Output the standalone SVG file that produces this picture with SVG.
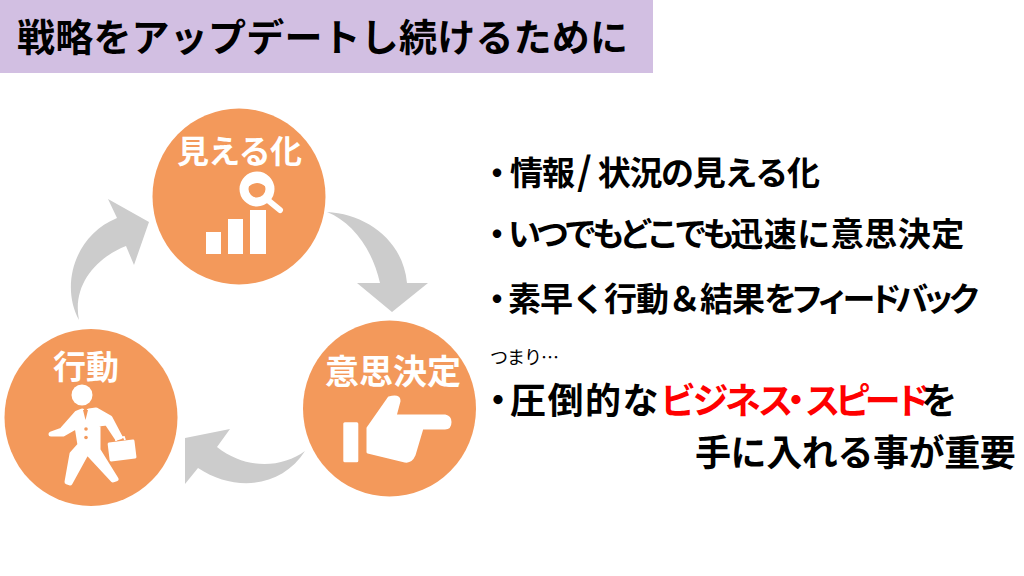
<svg xmlns="http://www.w3.org/2000/svg" width="1024" height="576" viewBox="0 0 1024 576">
<style>
text{font-family:"Noto Sans CJK JP","Noto Sans CJK SC",sans-serif;font-weight:700;fill:#000}
.node{fill:#F3995B}
.lbl{fill:#fff}
.ico{fill:#fff}
.arrow{fill:#CCCCCC}
.li{font-size:33px}
.big{font-size:36px}
.red{fill:#FF0000}
</style>
<rect x="0" y="0" width="1024" height="576" fill="#fff"/>
<g id="title">
<rect x="0" y="0" width="653" height="73" fill="#D2BFE2"/>
<text x="17" y="51" font-size="38" letter-spacing="0.2">戦略をアップデートし続けるために</text>
</g>
<g id="connectors">
<path class="arrow" d="M327 212C366 214 403 240 407 283H428L392 312L357 283H380C372 248 352 222 327 212Z"/>
<path class="arrow" d="M305 451C282 487 236 493 198 468L185 484V438L230 429L217 447C246 470 282 468 305 451Z"/>
<path class="arrow" d="M79 320C60 285 75 235 117 218L108 199L149 222L134 265L126 246C96 258 72 285 79 320Z"/>
</g>
<g id="node-visible">
<ellipse class="node" cx="239" cy="196.500" rx="86.500" ry="88"/>
<text class="lbl" x="177" y="163" font-size="32" letter-spacing="-0.7">見える化</text>
<circle cx="257" cy="189" r="13" fill="none" stroke="#fff" stroke-width="9"/>
<path d="M248 187Q257 179 266 187L266 181Q257 174 248 181Z" class="ico"/>
<path d="M269 201L280 210" fill="none" stroke="#fff" stroke-width="6" stroke-linecap="round"/>
<rect class="ico" x="206" y="232" width="15" height="22"/>
<rect class="ico" x="228" y="219" width="15" height="35"/>
<rect class="ico" x="250" y="210" width="16" height="44"/>
</g>
<g id="node-decision">
<ellipse class="node" cx="389.500" cy="408.500" rx="86.500" ry="88"/>
<text class="lbl" x="325" y="384" font-size="34">意思決定</text>
<rect class="ico" x="343.300" y="422.300" width="15" height="40" rx="1.500"/>
<path class="ico" stroke="#fff" stroke-width="3" stroke-linejoin="round" d="M368 428L389 398Q399 395 399 401L395 416H445Q450 417 450 422Q450 428 445 428H422L414 455Q411 462 405 461L368 452Z"/>
</g>
<g id="node-action">
<ellipse class="node" cx="91" cy="417.500" rx="86.500" ry="88.500"/>
<text class="lbl" x="53" y="379" font-size="33">行動</text>
<circle class="ico" cx="82" cy="395" r="10.500"/>
<path class="ico" stroke="#fff" stroke-width="5" stroke-linejoin="round" d="M77 413L82 411L86 419L89 411L96 410L110 418L120 437L117 438L107 423L98 424V450L116 479L113 480L87 452L70 483L67 482L72 454L80 445L77 426L63 434L51 434V434L62 430Z"/>
<path class="node" d="M83 410H88L85.500 420Z"/>
<circle class="node" cx="86" cy="429" r="1.800"/>
<circle class="node" cx="86" cy="437.500" r="1.800"/>
<path d="M116 441V438L124 437L125 440" fill="none" stroke="#fff" stroke-width="1.800"/>
<rect class="ico" x="108.500" y="441" width="27" height="19" rx="1.500" transform="rotate(-7 122 450)"/>
</g>
<g id="text-list">
<text class="li" y="185" x="480.500"><tspan letter-spacing="-3.500">・</tspan><tspan letter-spacing="-1">情報</tspan><tspan dx="3" font-size="38">/</tspan><tspan dx="6" letter-spacing="-1.300">状況の見える化</tspan></text>
<text class="li" y="246" x="480.500"><tspan letter-spacing="-5.500">・</tspan><tspan letter-spacing="-5">いつでもどこでも</tspan><tspan letter-spacing="0.500">迅速に意思決定</tspan></text>
<text class="li" y="311" x="480.500"><tspan letter-spacing="-5.500">・</tspan><tspan letter-spacing="-1">素早く行動＆結果</tspan><tspan letter-spacing="-6.600">をフィードバック</tspan></text>
<text x="490" y="364" font-size="18" style="font-weight:400" letter-spacing="-1">つまり…</text>
<text class="big" x="480" y="414"><tspan letter-spacing="-6">・</tspan><tspan letter-spacing="1.500">圧倒的な</tspan><tspan class="red" letter-spacing="-9.500" dx="0 6 6 6 -6 0 3.500 3.500 3.500">ビジネス・スピード</tspan><tspan>を</tspan></text>
<text class="big" x="695" y="466" letter-spacing="-0.400">手に入れる事が重要</text>
</g>
</svg>
